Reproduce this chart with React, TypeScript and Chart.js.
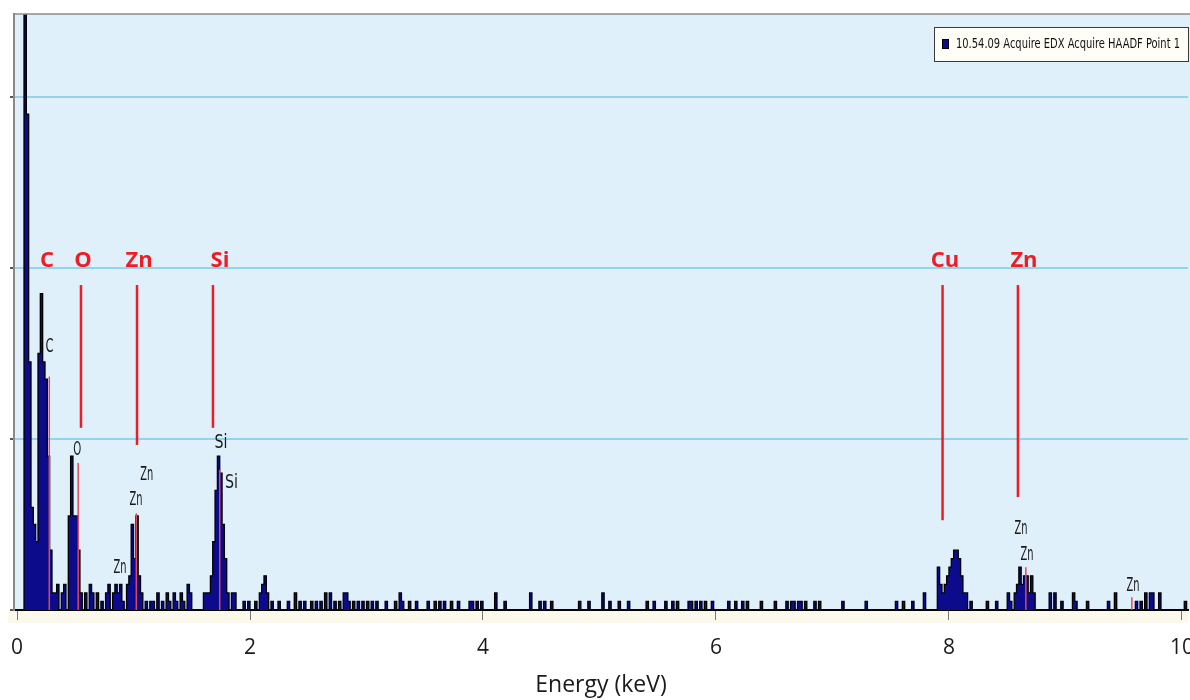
import React, { useEffect, useRef } from 'react';
import { Chart, registerables } from 'chart.js';

Chart.register(...registerables);

// ---------- data ----------
const BIN_KEV = 0.02;
const X_MIN = -0.026;
const X_MAX = 10.052;
const Y_MAX = 69.7;
const legendLabel = '10.54.09 Acquire EDX Acquire HAADF Point 1';

// non-empty spectrum bins (bin start energy in keV) and their counts
const binKeV = [
  0.08, 0.10, 0.12, 0.14, 0.16, 0.18,
  0.20, 0.22, 0.24, 0.26, 0.28, 0.30, 0.32,
  0.34, 0.36, 0.40, 0.42,
  0.46, 0.48, 0.50, 0.52, 0.54, 0.56,
  0.60, 0.64, 0.66, 0.70, 0.74, 0.78, 0.80, 0.84, 0.86, 0.88, 0.90, 0.92, 0.96, 0.98,
  1.00, 1.02, 1.04, 1.06, 1.08,
  1.12, 1.16, 1.18, 1.22, 1.26, 1.30, 1.32, 1.36, 1.38, 1.42, 1.44, 1.48, 1.50, 1.62, 1.64,
  1.66, 1.68, 1.70, 1.72, 1.74, 1.76, 1.78, 1.80, 1.82,
  1.86, 1.88, 1.96, 2.00, 2.06, 2.10, 2.12, 2.14, 2.16, 2.20,
  2.26, 2.34, 2.40, 2.44, 2.48, 2.54, 2.58, 2.62, 2.66, 2.70, 2.74, 2.78, 2.82, 2.84, 2.86,
  2.90, 2.94, 2.98, 3.02, 3.06, 3.10, 3.18, 3.26, 3.30, 3.32, 3.38, 3.44, 3.54, 3.60, 3.64,
  3.68, 3.74, 3.80, 3.90, 3.92, 3.96, 4.00, 4.12, 4.20, 4.42, 4.50, 4.54, 4.60, 4.84, 4.92,
  5.04, 5.10, 5.18, 5.26, 5.42, 5.48, 5.58, 5.64, 5.68, 5.78, 5.80, 5.84, 5.88, 5.92, 5.98,
  6.12, 6.18, 6.24, 6.28, 6.40, 6.52, 6.62, 6.66, 6.68, 6.72, 6.74, 6.78, 6.86, 6.90,
  7.10, 7.30, 7.56, 7.62, 7.70, 7.80,
  7.92, 7.94, 7.96, 7.98, 8.00, 8.02, 8.04, 8.06, 8.08, 8.10, 8.12, 8.14, 8.16,
  8.20, 8.34, 8.42, 8.52, 8.54,
  8.58, 8.60, 8.62, 8.64, 8.66, 8.68, 8.70, 8.72, 8.74,
  8.88, 8.92, 8.98, 9.08, 9.10, 9.20, 9.38, 9.44, 9.62, 9.66, 9.70, 9.74, 9.76, 9.82, 10.04,
];
const binCounts = [
  95, 58, 29, 12, 10, 8,
  30, 37, 29, 27, 18, 7, 2,
  2, 3, 2, 3,
  11, 18, 11, 11, 7, 2,
  2, 3, 2, 2, 1, 2, 3, 2, 3, 2, 3, 1, 3, 4,
  10, 6, 11, 4, 2,
  1, 1, 1, 2, 1, 2, 1, 2, 1, 2, 1, 3, 2, 2, 2,
  2, 4, 8, 14, 18, 16, 10, 6, 2,
  2, 2, 1, 1, 1, 2, 3, 4, 2, 1,
  1, 1, 2, 1, 1, 1, 1, 1, 2, 2, 1, 1, 2, 2, 1,
  1, 1, 1, 1, 1, 1, 1, 1, 2, 1, 1, 1, 1, 1, 1,
  1, 1, 1, 1, 1, 1, 1, 2, 1, 2, 1, 1, 1, 1, 1,
  2, 1, 1, 1, 1, 1, 1, 1, 1, 1, 1, 1, 1, 1, 1,
  1, 1, 1, 1, 1, 1, 1, 1, 1, 1, 1, 1, 1, 1,
  1, 1, 1, 1, 1, 2,
  5, 3, 2, 3, 4, 5, 6, 7, 7, 6, 4, 2, 2,
  1, 1, 1, 2, 1,
  2, 3, 5, 3, 4, 4, 2, 4, 2,
  2, 2, 1, 2, 1, 1, 1, 2, 1, 1, 2, 2, 2, 2, 1,
];

// red element annotations
const elementNames = ['C', 'O', 'Zn', 'Si', 'Cu', 'Zn'];
const elementLabelKeV = [0.258, 0.567, 1.047, 1.742, 7.966, 8.644];
const elementLabelCount = 40.8;
const elementLineKeV = [null, 0.549, 1.03, 1.682, 7.945, 8.592];
const elementLineTop = 38.0;
const elementLineBottom = [null, 21.3, 19.3, 21.3, 10.5, 13.2];

// software marker lines (thin pink)
const markerKeV = [0.277, 0.525, 1.024, 1.74, 8.66, 9.57];
const markerTop = [27.3, 17.2, 11.3, 16.4, 5.0, 1.5];

// software peak labels (small black)
const peakLabelText = ['C', 'O', 'Zn', 'Zn', 'Zn', 'Si', 'Si', 'Zn', 'Zn', 'Zn'];
const peakLabelKeV = [0.279, 0.518, 1.113, 1.021, 0.884, 1.751, 1.841, 8.618, 8.67, 9.58];
const peakLabelCount = [30.8, 18.7, 15.8, 12.9, 4.9, 19.5, 14.9, 9.5, 6.5, 2.8];

const NARROW = '"Liberation Sans Narrow", "DejaVu Sans Condensed", "Arial Narrow", sans-serif';

const bgPlugin = {
  id: 'bgPlugin',
  beforeDraw(chart: any) {
    const { ctx, chartArea } = chart;
    const { left, top, right, bottom } = chartArea;
    ctx.save();
    ctx.fillStyle = '#dff0fb';
    ctx.fillRect(left, top, right - left + 2, bottom - top);
    ctx.fillStyle = '#fbf9ec';
    ctx.fillRect(8, bottom, right - 8, 13);
    ctx.restore();
  },
};

const overlayPlugin = {
  id: 'overlayPlugin',
  afterDatasetsDraw(chart: any) {
    const { ctx, chartArea, scales } = chart;
    const xs = scales.x;
    const ys = scales.y;
    ctx.save();

    // top border
    ctx.strokeStyle = '#8c8c8c';
    ctx.lineWidth = 1.5;
    ctx.beginPath();
    ctx.moveTo(chartArea.left - 1, chartArea.top);
    ctx.lineTo(chartArea.right + 2, chartArea.top);
    ctx.stroke();

    // thin pink marker lines
    ctx.strokeStyle = '#e0485a';
    ctx.lineWidth = 1.5;
    markerKeV.forEach((e, i) => {
      const x = xs.getPixelForValue(e);
      ctx.beginPath();
      ctx.moveTo(x, ys.getPixelForValue(markerTop[i]));
      ctx.lineTo(x, ys.getPixelForValue(0));
      ctx.stroke();
    });

    // small black peak labels
    ctx.fillStyle = '#1a1a1a';
    ctx.font = `20px ${NARROW}`;
    ctx.textAlign = 'center';
    ctx.textBaseline = 'middle';
    peakLabelText.forEach((t, i) => {
      const x = xs.getPixelForValue(peakLabelKeV[i]);
      const y = ys.getPixelForValue(peakLabelCount[i]);
      ctx.fillText(t, x, y, t.length === 1 ? 8 : 13);
    });

    // red element lines + labels
    ctx.strokeStyle = '#ee1c25';
    ctx.lineWidth = 2.5;
    elementLineKeV.forEach((e, i) => {
      if (e === null) return;
      const x = xs.getPixelForValue(e);
      ctx.beginPath();
      ctx.moveTo(x, ys.getPixelForValue(elementLineTop));
      ctx.lineTo(x, ys.getPixelForValue(elementLineBottom[i] as number));
      ctx.stroke();
    });
    ctx.fillStyle = '#ee1c25';
    ctx.font = 'bold 22px "Open Sans", "DejaVu Sans", sans-serif';
    elementNames.forEach((t, i) => {
      ctx.fillText(t, xs.getPixelForValue(elementLabelKeV[i]), ys.getPixelForValue(elementLabelCount));
    });

    // legend box
    const bx = chartArea.right - 254;
    const by = chartArea.top + 13;
    const bw = 255;
    const bh = 35;
    ctx.fillStyle = '#fffef6';
    ctx.fillRect(bx, by, bw, bh);
    ctx.strokeStyle = '#3a3a3a';
    ctx.lineWidth = 1;
    ctx.strokeRect(bx + 0.5, by + 0.5, bw - 1, bh - 1);
    ctx.fillStyle = '#0b0b8c';
    ctx.fillRect(bx + 8, by + 12, 7, 10);
    ctx.strokeStyle = '#000';
    ctx.strokeRect(bx + 8.5, by + 12.5, 6, 9);
    ctx.fillStyle = '#111';
    ctx.font = `14px ${NARROW}`;
    ctx.textAlign = 'left';
    ctx.fillText(chart.data.datasets[0].label, bx + 22, by + 17.5, 224);

    ctx.restore();
  },
};

export default function App() {
  const ref = useRef<HTMLCanvasElement>(null);

  useEffect(() => {
    document.body.style.margin = '0';
    const canvas = ref.current;
    if (!canvas) return;
    const lookup = new Map<number, number>();
    binKeV.forEach((e, i) => lookup.set(Math.round(e / BIN_KEV), binCounts[i]));
    const nBins = Math.round(10.06 / BIN_KEV);
    const points: { x: number; y: number }[] = [];
    for (let k = 0; k <= nBins; k++) {
      points.push({ x: k * BIN_KEV, y: lookup.get(k) ?? 0 });
    }

    const chart = new Chart(canvas, {
      type: 'line',
      data: {
        datasets: [
          {
            label: legendLabel,
            data: points,
            stepped: 'after',
            fill: 'origin',
            backgroundColor: '#0b0b8c',
            borderColor: '#000000',
            borderWidth: 1.3,
            pointRadius: 0,
          },
        ],
      },
      options: {
        responsive: false,
        animation: false,
        events: [],
        layout: { padding: { top: 14, left: 10, right: 12, bottom: 0 } },
        plugins: { legend: { display: false }, tooltip: { enabled: false } },
        scales: {
          x: {
            type: 'linear',
            min: X_MIN,
            max: X_MAX,
            ticks: {
              stepSize: 2,
              includeBounds: false,
              padding: 0,
              maxRotation: 0,
              color: '#1a1a1a',
              font: { family: '"Open Sans", "DejaVu Sans", sans-serif', size: 21, lineHeight: 56 / 21 },
            },
            grid: {
              drawOnChartArea: false,
              drawTicks: true,
              tickLength: 10,
              tickColor: '#777',
              tickWidth: 1,
            },
            border: { display: true, color: '#000', width: 2 },
            title: {
              display: true,
              text: 'Energy (keV)',
              color: '#1a1a1a',
              font: { family: '"Open Sans", "DejaVu Sans", sans-serif', size: 23 },
              padding: { top: -4.6, bottom: 1 },
            },
          },
          y: {
            type: 'linear',
            min: 0,
            max: Y_MAX,
            ticks: { display: false, stepSize: 20, includeBounds: false },
            grid: {
              color: (c: any) => (c.tick && c.tick.value === 0 ? 'rgba(0,0,0,0)' : '#94d3ea'),
              lineWidth: 2,
              drawTicks: true,
              tickLength: 4,
              tickColor: '#222',
              tickWidth: 1.5,
            },
            border: { display: true, color: '#8a8a8a', width: 2 },
          },
        },
      },
      plugins: [bgPlugin, overlayPlugin],
    });
    return () => chart.destroy();
  }, []);

  return (
    <div style={{ position: 'relative', width: 1190, height: 700, overflow: 'hidden', background: '#fff' }}>
      <canvas ref={ref} width={1200} height={700} style={{ display: 'block', width: 1200, height: 700 }} />
    </div>
  );
}
